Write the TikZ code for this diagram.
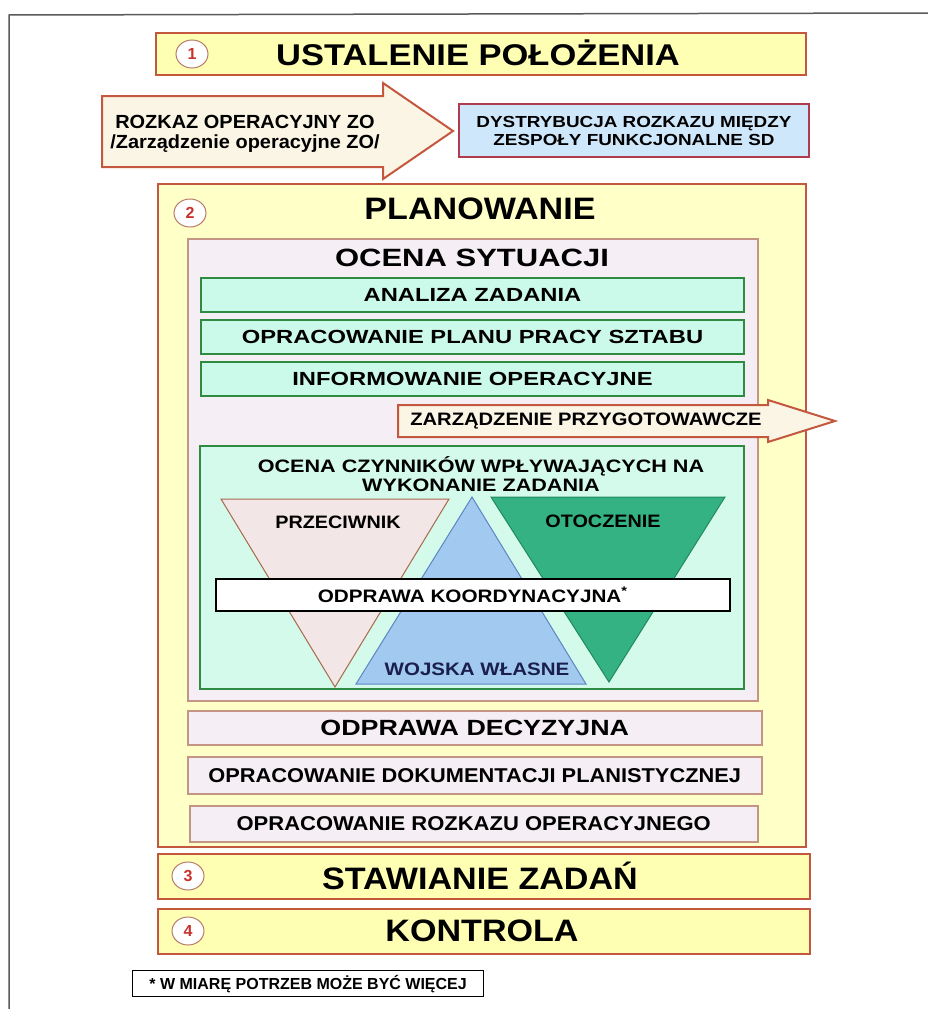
\documentclass[tikz,border=0pt]{standalone}
\usepackage{fontspec}
\setmainfont{Liberation Sans}
\usepackage{graphicx}
\usetikzlibrary{shapes.geometric}

\definecolor{framegray}{HTML}{5A5A5A}
\definecolor{barfill}{HTML}{FFFFB4}
\definecolor{panelfill}{HTML}{FFFFC8}
\definecolor{barline}{HTML}{C4583E}
\definecolor{numred}{HTML}{C8322D}
\definecolor{numline}{HTML}{B87A68}
\definecolor{creamfill}{HTML}{FBF5E6}
\definecolor{bluefill}{HTML}{CFE7FB}
\definecolor{blueline}{HTML}{B03A4E}
\definecolor{lavfill}{HTML}{F5EEF4}
\definecolor{lavline}{HTML}{C49484}
\definecolor{mintfill}{HTML}{CCFAEA}
\definecolor{mintline}{HTML}{2F8A42}
\definecolor{panelmint}{HTML}{D4FAEC}
\definecolor{enemyfill}{HTML}{F2E6E6}
\definecolor{enemyline}{HTML}{A86A4C}
\definecolor{ownfill}{HTML}{A2C9EF}
\definecolor{ownline}{HTML}{5D86C2}
\definecolor{terrfill}{HTML}{34B283}
\definecolor{terrline}{HTML}{1F8A5E}
\definecolor{owntext}{HTML}{1B1F4E}

% horizontal stretch of a text line
\newcommand\sx[2]{\scalebox{#1}[1]{#2}}
% bold text at a given size in pt
\newcommand\fs[1]{\fontsize{#1}{#1}\selectfont\bfseries}

\tikzset{
  bar/.style={draw=barline, fill=barfill, line width=2pt, anchor=north west, inner sep=0pt},
  numc/.style={ellipse, draw=numline, fill=white, line width=1pt, minimum width=32pt,
    minimum height=28pt, inner sep=0pt, text=numred, font=\fs{16}},
  greenbar/.style={draw=mintline, fill=mintfill, line width=2pt, anchor=north west,
    inner sep=0pt, minimum width=543pt, minimum height=34pt, font=\fs{19}},
  lavbar/.style={draw=lavline, fill=lavfill, line width=1.5pt, anchor=north west, inner sep=0pt},
  bigarrow/.style={draw=barline, fill=creamfill, line width=2pt, line join=miter},
  title/.style={inner sep=0pt},
}

\begin{document}
\begin{tikzpicture}[x=1pt,y=-1pt]
\useasboundingbox (0,0) rectangle (928,1009);
\fill[white] (0,0) rectangle (928,1009);
\draw[framegray, line width=1.5pt] (9,1009) -- (9,15) -- (928,13);

% ---- phase 1
\node[bar, minimum width=650pt, minimum height=42pt] (phase1) at (155,32) {};
\node[numc] (n1) at (192,54) {1};
\node[title, font=\fs{30}] (t1) at (478,53) {\sx{1.15}{USTALENIE POŁOŻENIA}};

\filldraw[bigarrow] (102,96) -- (383,96) -- (383,83) -- (453,131) -- (383,179) -- (383,167) -- (102,167) -- cycle;
\node[title, align=center, font=\fs{19}] (order) at (245,134)
  {\sx{1.05}{ROZKAZ OPERACYJNY ZO}\\[1pt]\sx{1.05}{/Zarządzenie operacyjne ZO/}};

\node[draw=blueline, fill=bluefill, line width=2pt, anchor=north west, minimum width=350pt,
  minimum height=53pt, inner sep=0pt, align=center, font=\fs{16}] (distr) at (458,103)
  {\sx{1.18}{DYSTRYBUCJA ROZKAZU MIĘDZY}\\[2pt]\sx{1.18}{ZESPOŁY FUNKCJONALNE SD}};

% ---- phase 2
\node[bar, fill=panelfill, minimum width=648pt, minimum height=663pt] (phase2) at (157,183) {};
\node[numc] (n2) at (190,213) {2};
\node[title, font=\fs{31}] (t2) at (480,209) {\sx{1.1}{PLANOWANIE}};

\node[lavbar, minimum width=570pt, minimum height=462pt] (assess) at (187,238) {};
\node[title, font=\fs{25}] (t2a) at (472,258) {\sx{1.24}{OCENA SYTUACJI}};

\node[greenbar] (g1) at (200,277) {\sx{1.25}{ANALIZA ZADANIA}};
\node[greenbar] (g2) at (200,319) {\sx{1.25}{OPRACOWANIE PLANU PRACY SZTABU}};
\node[greenbar] (g3) at (200,361) {\sx{1.25}{INFORMOWANIE OPERACYJNE}};

\node[draw=mintline, fill=panelmint, line width=2pt, anchor=north west, minimum width=544pt,
  minimum height=243pt, inner sep=0pt] (factors) at (199,445) {};

\filldraw[bigarrow] (398,405) -- (768,405) -- (768,400) -- (835,421) -- (768,442) -- (768,437) -- (398,437) -- cycle;
\node[title, font=\fs{18}] (prep) at (586,421) {\sx{1.12}{ZARZĄDZENIE PRZYGOTOWAWCZE}};

\node[title, align=center, font=\fs{18}] (ft) at (481,474)
  {\sx{1.2}{OCENA CZYNNIKÓW WPŁYWAJĄCYCH NA}\\[1pt]\sx{1.2}{WYKONANIE ZADANIA}};

% three factor triangles
\filldraw[draw=enemyline, fill=enemyfill, line width=1pt] (221,499) -- (449,499) -- (335,687) -- cycle;
\filldraw[draw=terrline, fill=terrfill, line width=1pt] (491,497) -- (725,497) -- (609,682) -- cycle;
\filldraw[draw=ownline, fill=ownfill, line width=1pt] (472,497) -- (586,684) -- (356,684) -- cycle;

\node[title, font=\fs{18}] (enemy) at (338,522) {\sx{1.1}{PRZECIWNIK}};
\node[title, font=\fs{18}] (terrain) at (603,521) {\sx{1.1}{OTOCZENIE}};
\node[title, font=\fs{18}, text=owntext] (own) at (477,669) {\sx{1.14}{WOJSKA WŁASNE}};

\node[draw=black, fill=white, line width=1.5pt, anchor=north west, minimum width=514pt,
  minimum height=32pt, inner sep=0pt, font=\fs{18}] (coord) at (215,578)
  {\sx{1.15}{ODPRAWA KOORDYNACYJNA\textsuperscript{*}}};

\node[lavbar, minimum width=574pt, minimum height=34pt, font=\fs{22}] (brief) at (187,710)
  {\sx{1.22}{ODPRAWA DECYZYJNA}};
\node[lavbar, minimum width=574pt, minimum height=37pt, font=\fs{20}] (docs) at (187,756)
  {\sx{1.09}{OPRACOWANIE DOKUMENTACJI PLANISTYCZNEJ}};
\node[lavbar, minimum width=568pt, minimum height=36pt, font=\fs{20}] (opord) at (189,805)
  {\sx{1.1}{OPRACOWANIE ROZKAZU OPERACYJNEGO}};

% ---- phases 3 and 4
\node[bar, minimum width=652pt, minimum height=45pt] (phase3) at (157,853) {};
\node[numc] (n3) at (188,876) {3};
\node[title, font=\fs{31}] (t3) at (480,876) {\sx{1.1}{STAWIANIE ZADAŃ}};

\node[bar, minimum width=652pt, minimum height=45pt] (phase4) at (157,908) {};
\node[numc] (n4) at (188,931) {4};
\node[title, font=\fs{31}] (t4) at (482,931) {\sx{1.1}{KONTROLA}};

% ---- footnote
\node[draw=black, fill=white, line width=1.2pt, anchor=north west, minimum width=351pt,
  minimum height=26pt, inner sep=0pt, font=\fs{16}] (note) at (132,970)
  {* W MIARĘ POTRZEB MOŻE BYĆ WIĘCEJ};
\end{tikzpicture}
\end{document}
